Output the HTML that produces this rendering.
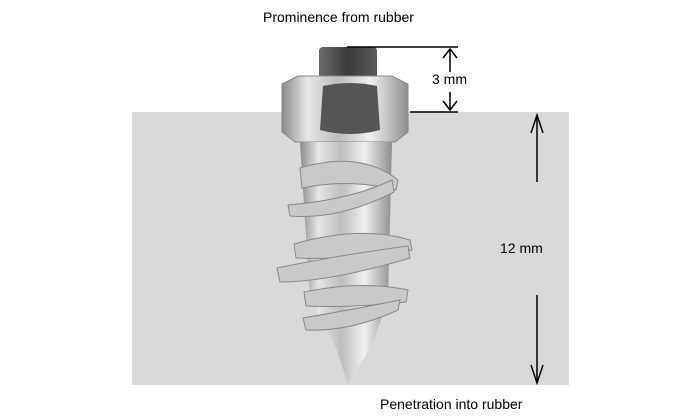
<!DOCTYPE html>
<html><head><meta charset="utf-8"><style>
html,body{margin:0;padding:0;background:#fff;width:700px;height:420px;overflow:hidden}
text{font-family:"Liberation Sans",Arial,sans-serif;font-size:14px;fill:#000}
</style></head><body>
<svg width="700" height="420" viewBox="0 0 700 420" xmlns="http://www.w3.org/2000/svg">
<defs>
<linearGradient id="met" x1="0" x2="1" y1="0" y2="0">
<stop offset="0" stop-color="#8a8a8a"/><stop offset="0.2" stop-color="#e6e6e6"/><stop offset="0.45" stop-color="#bdbdbd"/><stop offset="0.7" stop-color="#f0f0f0"/><stop offset="1" stop-color="#8e8e8e"/>
</linearGradient>
<linearGradient id="pin" x1="0" x2="1"><stop offset="0" stop-color="#6a6a6a"/><stop offset="0.5" stop-color="#3a3a3a"/><stop offset="1" stop-color="#5a5a5a"/></linearGradient>
</defs>
<rect x="132" y="112" width="437" height="273" fill="#d9d9d9"/>
<!-- pin -->
<rect x="319" y="47" width="58" height="34" rx="4" fill="url(#pin)"/>
<!-- hex nut -->
<path d="M282 84 L298 76 L392 76 L408 84 L408 132 L395 142 L295 142 L282 132 Z" fill="url(#met)" stroke="#888"/>
<path d="M323 86 Q350 80 377 86 L380 130 Q350 138 320 130 Z" fill="#555"/>
<!-- shank -->
<path d="M300 142 L392 142 L388 300 L372 345 L348 384 L335 345 L310 300 Z" fill="url(#met)"/>
<!-- threads -->
<g fill="#c9c9c9" stroke="#888" stroke-width="1">
<path d="M300 168 Q360 150 398 180 L396 190 Q350 178 302 188 Z"/>
<path d="M288 205 Q350 200 392 180 L394 192 Q340 220 290 216 Z"/>
<path d="M294 244 Q360 225 410 240 L412 250 Q350 260 296 258 Z"/>
<path d="M277 268 Q340 255 408 246 L410 258 Q330 282 280 282 Z"/>
<path d="M304 292 Q360 280 408 290 L406 302 Q350 308 306 306 Z"/>
<path d="M303 318 Q350 310 400 300 L398 310 Q350 332 306 330 Z"/>
</g>
<!-- dimension lines -->
<g stroke="#000" stroke-width="1.5" fill="none">
<line x1="347" y1="47" x2="458" y2="47"/>
<line x1="410" y1="112" x2="458" y2="112"/>
<line x1="450" y1="49" x2="450" y2="72"/><path d="M443 58 L450 49 L457 58"/>
<line x1="450" y1="92" x2="450" y2="110"/><path d="M443 101 L450 110 L457 101"/>
<line x1="537" y1="115" x2="537" y2="182"/><path d="M531 133 L537 115 L543 133"/>
<line x1="537" y1="295" x2="537" y2="383"/><path d="M531 365 L537 383 L543 365"/>
</g>
<text x="263" y="22">Prominence from rubber</text>
<text x="432" y="84">3 mm</text>
<text x="500" y="253">12 mm</text>
<text x="380" y="409">Penetration into rubber</text>
</svg>
</body></html>
